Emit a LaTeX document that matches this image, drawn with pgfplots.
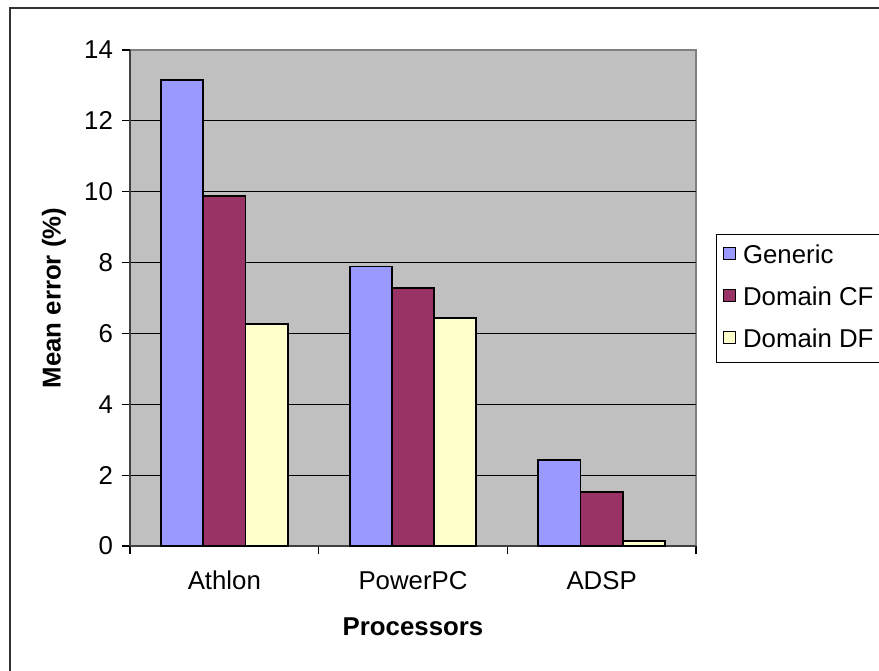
\documentclass[border=0pt]{standalone}
\usepackage{pgfplots}
\pgfplotsset{compat=1.18}
\usepackage{fontspec}
\setmainfont{Liberation Sans}
\definecolor{cgen}{HTML}{9999FF}
\definecolor{ccf}{HTML}{993366}
\definecolor{cdf}{HTML}{FFFFCC}
\definecolor{plotbg}{HTML}{C0C0C0}
\begin{document}
\begin{tikzpicture}
\clip (0,0) rectangle (439.5pt,335pt);
\fill[white] (0,0) rectangle (439.5pt,335pt);
\draw[black!80, line width=1pt] (5pt,-10pt) rectangle (460pt,331pt);
\begin{axis}[
  at={(65pt,62pt)}, anchor=south west,
  width=283pt, height=248pt, scale only axis,
  font=\fontsize{12.9}{15}\selectfont,
  /pgf/number format/assume math mode=true,
  ybar=0pt, bar width=0.224,
  xmin=-0.5, xmax=2.5, ymin=0, ymax=14,
  xtick={0,1,2}, xticklabels={Athlon,PowerPC,ADSP},
  minor xtick={-0.5,0.5,1.5,2.5},
  ytick={0,2,...,12},
  extra y ticks={14}, extra y tick style={grid=none},
  ymajorgrids, grid style={black, line width=0.6pt},
  tick align=outside,
  major tick length=4pt, minor tick length=4pt,
  x tick style={black, line width=0.6pt},
  y tick style={black, line width=0.6pt},
  xtick style={draw=none},
  minor x tick style={draw=black},
  axis x line*=bottom, axis y line*=left,
  axis line style={-, black!75, line width=0.7pt},
  axis background/.style={fill=plotbg, draw=black!50, line width=0.7pt},
  xticklabel style={yshift=-5pt},
  yticklabel style={xshift=-1pt},
  ylabel={\bfseries Mean error (\%)},
  ylabel style={at={(axis description cs:-0.1343,0.5)}, anchor=center},
  xlabel={\bfseries Processors},
  xlabel style={at={(axis description cs:0.5,-0.1633)}, anchor=center},
  legend style={at={(axis description cs:1.0353,0.629)}, anchor=north west,
    draw=black, line width=0.7pt, fill=white, inner sep=3pt,
    font=\fontsize{12.9}{15}\selectfont,
    row sep=5pt,
    nodes={inner sep=2pt, text height=9.5pt, text depth=2.5pt},
    cells={anchor=west},
    /tikz/every odd column/.append style={column sep=1.5pt}},
  legend image code/.code={\draw[#1, draw=black, line width=0.7pt] (2pt,-1.5pt) rectangle (8pt,4.5pt);},
]
\addplot[fill=cgen, draw=black, line width=0.9pt] coordinates {(0,13.15) (1,7.89) (2,2.43)};
\addplot[fill=ccf, draw=black, line width=0.9pt] coordinates {(0,9.88) (1,7.28) (2,1.52)};
\addplot[fill=cdf, draw=black, line width=0.9pt] coordinates {(0,6.27) (1,6.43) (2,0.15)};
\legend{Generic,Domain CF,Domain DF}
\end{axis}
\end{tikzpicture}
\end{document}
